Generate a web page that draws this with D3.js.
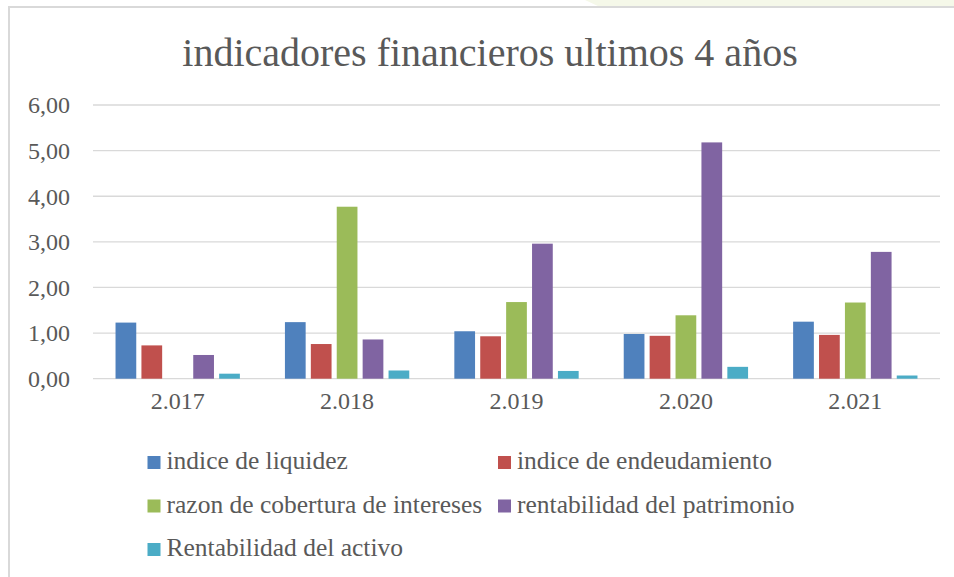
<!DOCTYPE html>
<html>
<head>
<meta charset="utf-8">
<script src="https://cdn.jsdelivr.net/npm/d3@7"></script>
<style>
  html, body { margin: 0; padding: 0; background: #fff; }
  svg { display: block; font-family: "Liberation Serif", "DejaVu Serif", serif; }
</style>
</head>
<body>
<div id="chart"></div>
<script>
const title      = 'indicadores financieros ultimos 4 años';
const years      = ['2.017', '2.018', '2.019', '2.020', '2.021'];
const seriesNames = [
    'indice de liquidez',
    'indice de endeudamiento',
    'razon de cobertura de intereses',
    'rentabilidad del patrimonio',
    'Rentabilidad del activo'
];
const liquidez      = [1.23, 1.24, 1.04, 0.98, 1.25];
const endeudamiento = [0.73, 0.76, 0.93, 0.94, 0.96];
const cobertura     = [0.00, 3.77, 1.68, 1.39, 1.67];
const patrimonio    = [0.52, 0.86, 2.96, 5.18, 2.78];
const activo        = [0.11, 0.18, 0.17, 0.26, 0.07];
const yTicks        = [0, 1, 2, 3, 4, 5, 6];

const colors = ['#4f81bd', '#c0504d', '#9bbb59', '#8064a2', '#4bacc6'];

class GroupedBars {
    constructor(elID) {
        this.width  = 954;
        this.height = 577;
        this.svg    = this.getSVG(elID);
        this.locale = d3.formatLocale({ decimal: ',', thousands: '.', grouping: [3], currency: ['', ''] });
        this.fmt    = this.locale.format('.2f');
    }

    getSVG(id) {
        return d3.select('#' + id).append('svg')
                    .attr('width', this.width)
                    .attr('height', this.height);
    }

    getRows() {
        const all = [liquidez, endeudamiento, cobertura, patrimonio, activo];
        return years.map((year, i) => ({
            year,
            values: seriesNames.map((name, s) => ({ name, s, value: all[s][i] }))
        }));
    }

    drawFrame() {
        // faint page decoration above the chart box
        this.svg.append('polygon')
            .attr('points', '585,0 954,0 954,7 600,7')
            .attr('fill', '#f5f8e9');
        this.svg.append('path')
            .attr('d', 'M9,577 V7 H954')
            .attr('fill', 'none')
            .attr('stroke', '#d9d9d9')
            .attr('stroke-width', 2);
    }

    drawTitle() {
        this.svg.append('text')
            .attr('x', 490)
            .attr('y', 66)
            .attr('text-anchor', 'middle')
            .style('font-size', '40px')
            .style('fill', '#595959')
            .text(title);
    }

    drawAxes() {
        const y = this.y;
        this.svg.append('g')
            .selectAll('line')
            .data(yTicks)
            .join('line')
                .attr('x1', 93).attr('x2', 940)
                .attr('y1', d => y(d)).attr('y2', d => y(d))
                .attr('stroke', '#d9d9d9')
                .attr('stroke-width', 1.3);

        this.svg.append('g')
            .selectAll('text')
            .data(yTicks)
            .join('text')
                .attr('x', 70)
                .attr('y', d => y(d))
                .attr('dy', '0.35em')
                .attr('text-anchor', 'end')
                .style('font-size', '24px')
                .style('fill', '#595959')
                .text(d => this.fmt(d));

        const xAxis = d3.axisBottom(this.x).tickSize(0).tickPadding(0);
        const g = this.svg.append('g')
            .attr('transform', `translate(0,${y(0) + 22})`)
            .call(xAxis);
        g.select('.domain').remove();
        g.selectAll('text')
            .attr('dy', '0.35em')
            .style('font-size', '24px')
            .style('font-family', '"Liberation Serif", serif')
            .style('fill', '#595959');
    }

    drawBars() {
        const { x, xs, y } = this;
        this.svg.append('g')
            .selectAll('g')
            .data(this.rows)
            .join('g')
                .attr('transform', d => `translate(${x(d.year)},0)`)
            .selectAll('rect')
            .data(d => d.values)
            .join('rect')
                .attr('x', d => xs(d.name))
                .attr('y', d => y(d.value))
                .attr('width', xs.bandwidth())
                .attr('height', d => y(0) - y(d.value))
                .attr('fill', d => colors[d.s]);
    }

    drawLegend() {
        const cols = [147.5, 498];
        const rowY = [469, 512.5, 556];
        const items = this.svg.append('g')
            .selectAll('g')
            .data(seriesNames)
            .join('g')
                .attr('transform', (d, i) => `translate(${cols[i % 2]},${rowY[Math.floor(i / 2)]})`);

        items.append('rect')
            .attr('x', 0).attr('y', -13)
            .attr('width', 13).attr('height', 13)
            .attr('fill', (d, i) => colors[i]);

        items.append('text')
            .attr('x', 19)
            .attr('y', 0)
            .style('font-size', '25.5px')
            .style('fill', '#595959')
            .text(d => d);
    }

    run() {
        this.rows = this.getRows();
        this.x  = d3.scaleBand().domain(years).range([93, 940]).paddingInner(0.266).paddingOuter(0.133);
        this.xs = d3.scaleBand().domain(seriesNames).range([0, this.x.bandwidth()]).paddingInner(0.2);
        this.y  = d3.scaleLinear().domain([0, 6]).range([378.7, 105]);

        this.drawFrame();
        this.drawTitle();
        this.drawAxes();
        this.drawBars();
        this.drawLegend();
    }
}

new GroupedBars('chart').run();
</script>
</body>
</html>
